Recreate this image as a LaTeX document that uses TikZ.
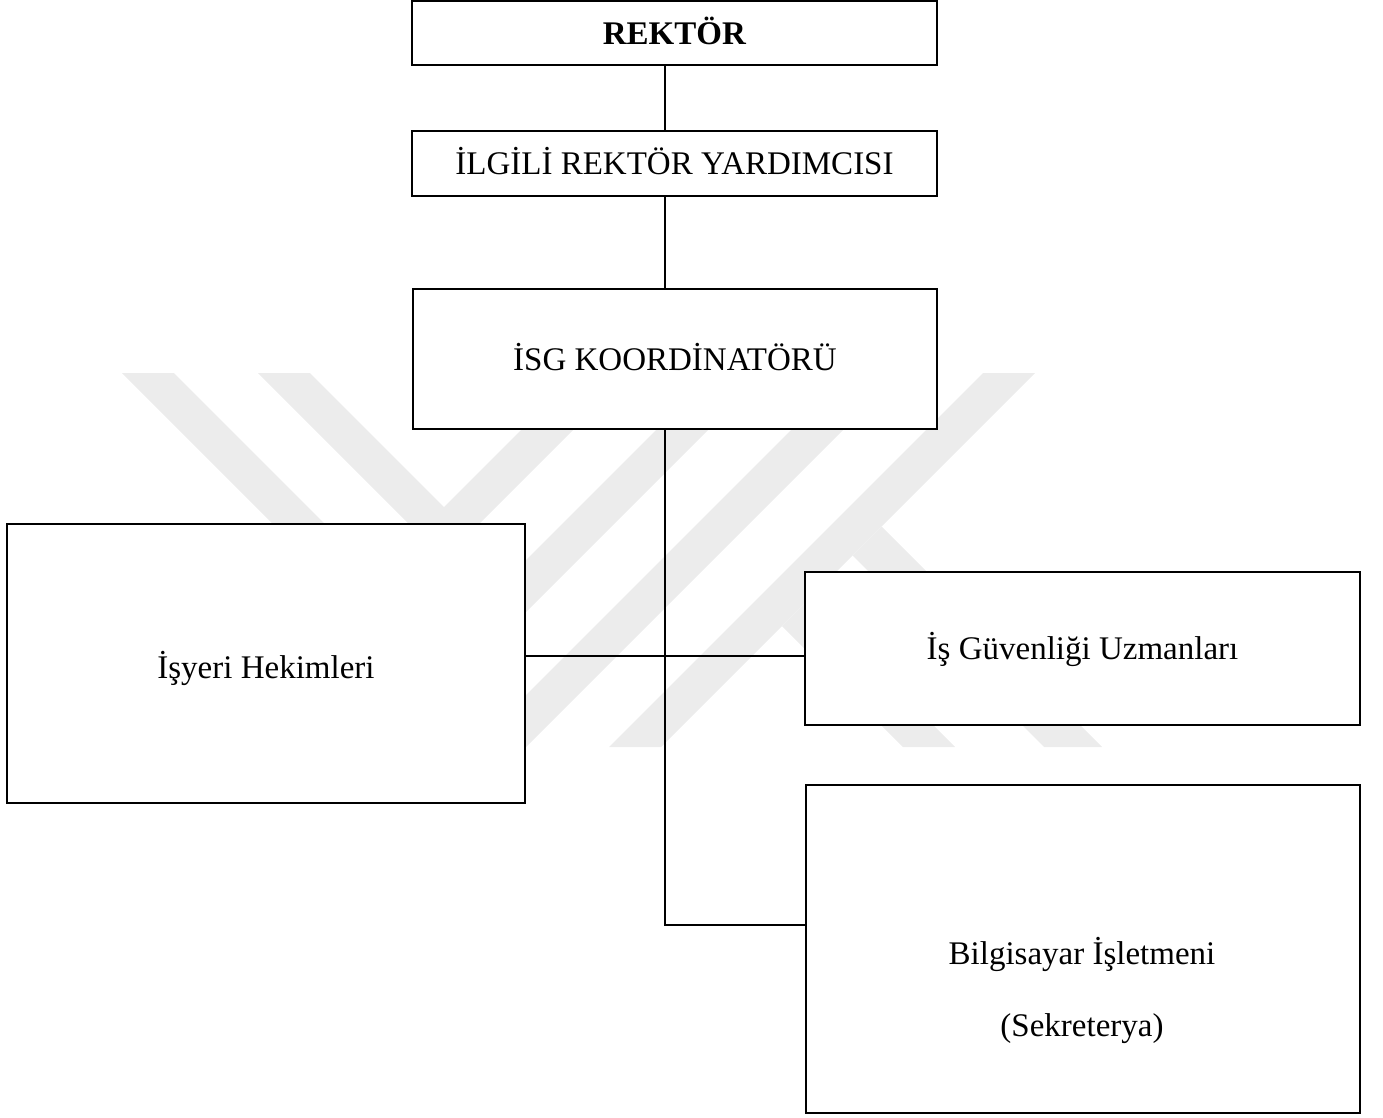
\documentclass[tikz,border=0pt]{standalone}
\usepackage{fontspec}
\setmainfont{Liberation Serif}
\definecolor{wmgray}{gray}{0.925}
\begin{document}
\begin{tikzpicture}[x=1pt,y=-1pt,
  box/.style={draw=black, fill=white, line width=1.2pt, inner sep=0pt,
    text height=22pt, text depth=0pt, font=\fontsize{33}{40}\selectfont},
  plain/.style={inner sep=0pt, text height=22pt, text depth=0pt, font=\fontsize{33}{40}\selectfont},
  conn/.style={draw=black, line width=1.2pt},
  wm/.style={fill=wmgray}]
\useasboundingbox (0,0) rectangle (1383,1117);
% watermark
\fill[wm] (258,373) -- (310,373) -- (444,507) -- (578,373) -- (630,373) -- (444,559) -- cycle;
\fill[wm] (122,373) -- (174,373) -- (443.5,642.5) -- (713,373) -- (765,373) -- (443.5,694.5) -- cycle;
\fill[wm] (848,373) -- (900,373) -- (526,747) -- (474,747) -- cycle;
\fill[wm] (983,373) -- (1035,373) -- (661,747) -- (609,747) -- cycle;
\fill[wm] (782,626) -- (808,600) -- (955,747) -- (903,747) -- cycle;
\fill[wm] (852.5,555.5) -- (881.5,526.5) -- (1102,747) -- (1044,747) -- cycle;
% boxes
\node[box, minimum width=525pt, minimum height=64pt] (rektor) at (674.5,33) {\textbf{REKTÖR}};
\node[box, minimum width=525pt, minimum height=65pt] (ilgili) at (674.5,163.5) {İLGİLİ REKTÖR YARDIMCISI};
\node[box, minimum width=524pt, minimum height=140pt] (isg) at (675,359) {İSG KOORDİNATÖRÜ};
\node[box, minimum width=518pt, minimum height=279pt, text height=30pt] (isyeri) at (266,663.5) {İşyeri Hekimleri};
\node[box, minimum width=555pt, minimum height=153pt] (uzman) at (1082.5,648.5) {İş Güvenliği Uzmanları};
\node[box, minimum width=554pt, minimum height=328pt] (bilgi) at (1083,949) {};
\node[plain] (bil1) at (1082,953) {Bilgisayar İşletmeni};
\node[plain] (bil2) at (1082,1025) {(Sekreterya)};
% connectors
\coordinate (j1) at (665,656);
\coordinate (j2) at (665,925);
\draw[conn] (rektor.south -| j1) -- (ilgili.north -| j1);
\draw[conn] (ilgili.south -| j1) -- (isg.north -| j1);
\draw[conn] (isg.south -| j1) -- (j2) -- (bilgi.west |- j2);
\draw[conn] (isyeri.east |- j1) -- (uzman.west |- j1);
\end{tikzpicture}
\end{document}
